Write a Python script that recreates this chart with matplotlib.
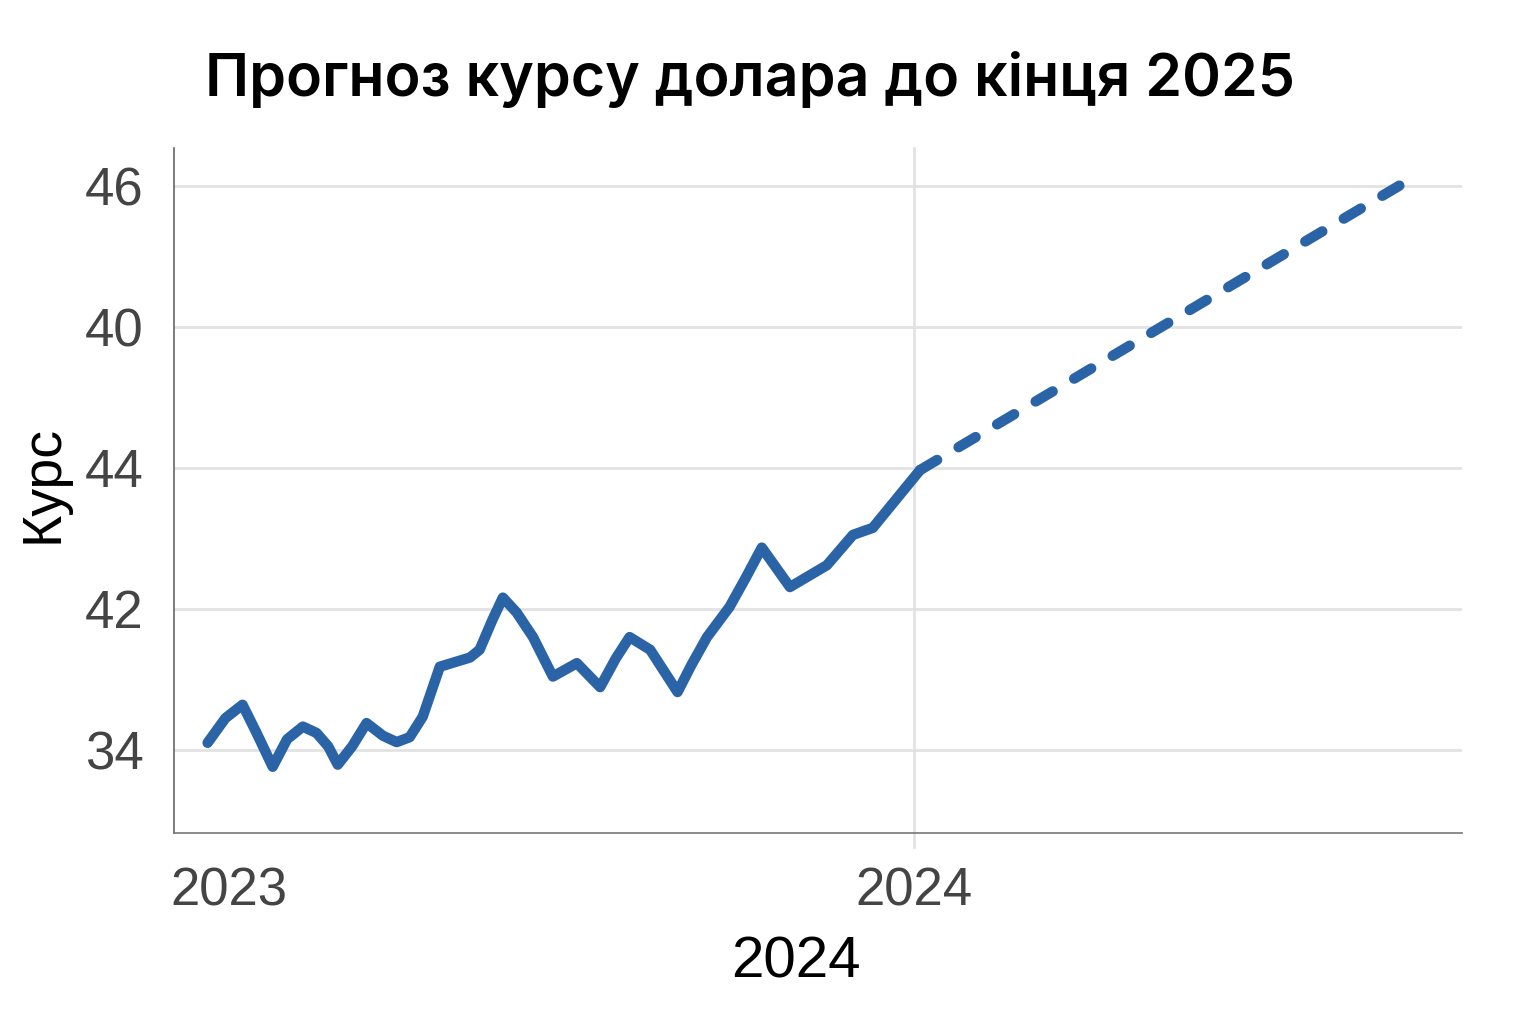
import matplotlib
matplotlib.use("Agg")
import matplotlib.pyplot as plt

# history (solid line), x in years, y in chart units
hist_x = [2022.969, 2022.995, 2023.020, 2023.040, 2023.064, 2023.085, 2023.108,
          2023.128, 2023.145, 2023.159, 2023.180, 2023.201, 2023.225, 2023.245,
          2023.264, 2023.283, 2023.308, 2023.352, 2023.366, 2023.385, 2023.400,
          2023.420, 2023.444, 2023.473, 2023.508, 2023.542, 2023.565, 2023.585,
          2023.615, 2023.655, 2023.675, 2023.698, 2023.731, 2023.755, 2023.778,
          2023.819, 2023.873, 2023.911, 2023.940, 2024.009]
hist_y = [34.10, 34.45, 34.64, 34.25, 33.76, 34.15, 34.33,
          34.24, 34.05, 33.79, 34.05, 34.38, 34.20, 34.11,
          34.18, 34.47, 35.18, 35.31, 35.42, 35.85, 36.16,
          35.95, 35.60, 35.04, 35.23, 34.89, 35.30, 35.60,
          35.42, 34.82, 35.20, 35.60, 36.03, 36.45, 36.87,
          36.31, 36.62, 37.05, 37.15, 37.97]

# forecast (dashed line)
fc_x = [2024.009, 2024.725]
fc_y = [37.97, 42.10]

y_ticks = [34, 36, 38, 40, 42]
y_labels = ["34", "42", "44", "40", "46"]
x_ticks = [2023, 2024]
x_labels = ["2023", "2024"]

title = "Прогноз курсу долара до кінця 2025"
x_title = "2024"
y_title = "Курс"

blue = "#2a64a6"

fig = plt.figure(figsize=(15.36, 10.24), dpi=100)
ax = fig.add_axes([0.1133, 0.1865, 0.8385, 0.669])

ax.plot(hist_x, hist_y, color=blue, linewidth=7.5,
        solid_joinstyle="round", solid_capstyle="round", zorder=3)
ax.plot(fc_x, fc_y, color=blue, linewidth=7.5, linestyle=(0, (1.9, 2.4)),
        dash_capstyle="round", zorder=3)

ax.set_xlim(2022.92, 2024.8)
ax.set_ylim(32.82, 42.54)

ax.set_yticks(y_ticks)
ax.set_yticklabels(y_labels)
ax.set_xticks(x_ticks)
ax.set_xticklabels(x_labels)

ax.grid(axis="y", color="#e2e2e2", linewidth=2)
ax.axvline(2024, ymin=-0.02, ymax=1, color="#e2e2e2", linewidth=2, clip_on=False, zorder=1)
ax.set_axisbelow(True)

for s in ["top", "right"]:
    ax.spines[s].set_visible(False)
ax.spines["left"].set_color("#666666")
ax.spines["bottom"].set_color("#777777")
ax.spines["left"].set_linewidth(1.2)
ax.spines["bottom"].set_linewidth(1.2)

ax.tick_params(axis="both", length=0, labelsize=38, labelcolor="#444444")
ax.tick_params(axis="y", pad=22)
ax.tick_params(axis="x", pad=24)
for lab in ax.get_xticklabels() + ax.get_yticklabels():
    lab.set_fontfamily("Liberation Sans")

ax.set_xlabel(x_title, fontsize=42, family="Liberation Sans", color="black")
ax.xaxis.set_label_coords(0.483, -0.15)
ax.set_ylabel(y_title, fontsize=40, family="Liberation Sans", color="black")
ax.yaxis.set_label_coords(-0.081, 0.51)

fig.text(0.488, 0.922, title, fontsize=42.5, family="Inter", fontweight="semibold",
         ha="center", va="center", color="black")

fig.savefig("out.png", dpi=100, facecolor="white")
